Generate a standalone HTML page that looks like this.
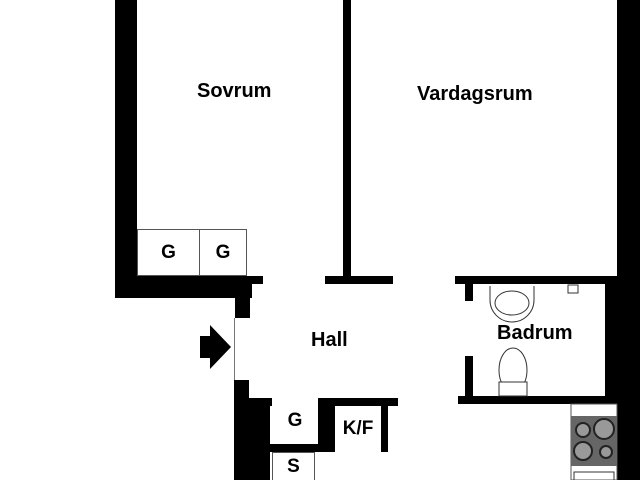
<!DOCTYPE html>
<html><head><style>
html,body{margin:0;width:640px;height:480px;overflow:hidden}
body{background:#fff;position:relative;font-family:"Liberation Sans",sans-serif}
.b{position:absolute;background:#000}
.box{position:absolute;border:1px solid #555;box-sizing:border-box;font-weight:bold;font-size:19px;display:flex;align-items:center;justify-content:center}
.t{position:absolute;font-weight:bold;font-size:20px}
</style></head><body>
<div class="b" style="left:115px;top:0;width:22px;height:298px"></div>
<div class="b" style="left:115px;top:276px;width:148px;height:8px"></div>
<div class="b" style="left:115px;top:284px;width:137px;height:14px"></div>
<div class="b" style="left:235px;top:284px;width:15px;height:34px"></div>
<div class="b" style="left:343px;top:0;width:8px;height:284px"></div>
<div class="b" style="left:325px;top:276px;width:68px;height:8px"></div>
<div class="b" style="left:617px;top:0;width:23px;height:480px"></div>
<div class="b" style="left:455px;top:276px;width:162px;height:8px"></div>
<div class="b" style="left:605px;top:276px;width:12px;height:128px"></div>
<div class="b" style="left:465px;top:284px;width:8px;height:17px"></div>
<div class="b" style="left:465px;top:356px;width:8px;height:42px"></div>
<div class="b" style="left:458px;top:396px;width:150px;height:8px"></div>
<div style="position:absolute;left:234px;top:318px;width:1px;height:62px;background:#777"></div>
<div class="b" style="left:234px;top:380px;width:15px;height:100px"></div>
<div class="b" style="left:234px;top:398px;width:36px;height:82px"></div>
<div class="b" style="left:248px;top:398px;width:150px;height:8px"></div>
<div class="b" style="left:270px;top:444px;width:48px;height:8px"></div>
<div class="b" style="left:318px;top:398px;width:17px;height:54px"></div>
<div class="b" style="left:381px;top:406px;width:7px;height:46px"></div>
<div class="box" style="left:137px;top:229px;width:63px;height:47px">G</div>
<div class="box" style="left:199px;top:229px;width:48px;height:47px">G</div>
<div class="box" style="left:272px;top:398px;width:46px;height:46px;border:none;background:#fff">G</div>
<div class="box" style="left:335px;top:406px;width:46px;height:46px;border:none;background:#fff">K/F</div>
<div class="box" style="left:272px;top:452px;width:43px;height:28px;border-bottom:none">S</div>
<svg style="position:absolute;left:0;top:0" width="640" height="480">
<polygon points="200,336 210,336 210,325 231,347 210,369 210,358 200,358" fill="#000"/>
<path d="M490,286 L490,300 A22,22 0 0 0 534,300 L534,286" fill="none" stroke="#333"/>
<ellipse cx="512" cy="303" rx="17" ry="12" fill="none" stroke="#333"/>
<ellipse cx="513" cy="370" rx="14" ry="22" fill="none" stroke="#333"/>
<rect x="499" y="382" width="28" height="14" fill="#fff" stroke="#333"/>
<rect x="568" y="285" width="10" height="8" fill="none" stroke="#333"/>
<rect x="571" y="404" width="46" height="76" fill="none" stroke="#555"/>
<rect x="571" y="416" width="46" height="50" fill="#666"/>
<circle cx="583" cy="430" r="7" fill="#999" stroke="#222" stroke-width="2"/>
<circle cx="604" cy="429" r="10" fill="#999" stroke="#222" stroke-width="2"/>
<circle cx="583" cy="451" r="9" fill="#999" stroke="#222" stroke-width="2"/>
<circle cx="606" cy="452" r="6" fill="#999" stroke="#222" stroke-width="2"/>
<rect x="574" y="472" width="40" height="10" fill="none" stroke="#333"/>
</svg>
<div class="t" style="left:197px;top:80px">Sovrum</div>
<div class="t" style="left:417px;top:83px">Vardagsrum</div>
<div class="t" style="left:311px;top:329px">Hall</div>
<div class="t" style="left:497px;top:322px">Badrum</div>
</body></html>
